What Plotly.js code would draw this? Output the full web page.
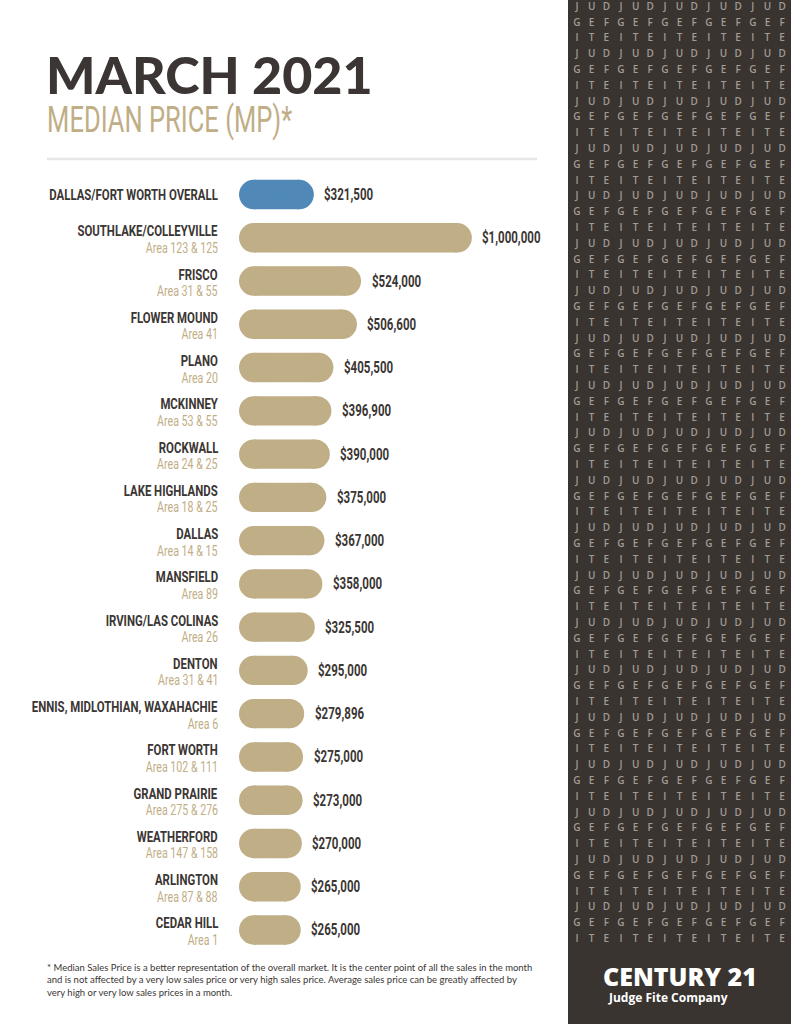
<!DOCTYPE html>
<html>
<head>
<meta charset="utf-8">
<script src="https://cdn.plot.ly/plotly-3.0.1.min.js"></script>
<style>
html,body{margin:0;padding:0;background:#fff;}
#chart{width:791px;height:1024px;}
</style>
</head>
<body>
<div id="chart"></div>
<script>
// ---- data ----
const names = ["DALLAS/FORT WORTH OVERALL","SOUTHLAKE/COLLEYVILLE","FRISCO","FLOWER MOUND","PLANO","MCKINNEY","ROCKWALL","LAKE HIGHLANDS","DALLAS","MANSFIELD","IRVING/LAS COLINAS","DENTON","ENNIS, MIDLOTHIAN, WAXAHACHIE","FORT WORTH","GRAND PRAIRIE","WEATHERFORD","ARLINGTON","CEDAR HILL"];
const areas = ["","Area 123 & 125","Area 31 & 55","Area 41","Area 20","Area 53 & 55","Area 24 & 25","Area 18 & 25","Area 14 & 15","Area 89","Area 26","Area 31 & 41","Area 6","Area 102 & 111","Area 275 & 276","Area 147 & 158","Area 87 & 88","Area 1"];
const medianPrice = [321500,1000000,524000,506600,405500,396900,390000,375000,367000,358000,325500,295000,279896,275000,273000,270000,265000,265000];
const panelRows = ["J U D","G E F","I T E"];

// ---- styling ----
const W = 791, H = 1024;
const px = x => x / W;
const py = y => 1 - y / H;
const BLUE = "#5089b8", TAN = "#bfae86", DARK = "#3b3633", PANEL = "#3a3431", LETTER = "#a19b96";
const FONT = "Roboto, 'Open Sans', sans-serif";

const X0 = 239, X1 = 560, PX_PER_DOLLAR = 0.23287 / 1000;
const XMAX = (X1 - X0) / PX_PER_DOLLAR;
const ROW_PX = (951.6 - 172.9) / 18;
const BAR_W = 0.68;                       // in category units
const BAR_PX = BAR_W * ROW_PX;            // bar thickness in px
const CAP = (BAR_PX / 2) / PX_PER_DOLLAR; // radius of the rounded end in data units

const idx = names.map((_, i) => i);
const colors = medianPrice.map((_, i) => i === 0 ? BLUE : TAN);

// pill bars: square middle + round caps at each end
const barBody = {
  type: "bar", orientation: "h",
  y: idx, base: medianPrice.map(() => CAP), x: medianPrice.map(v => v - 2 * CAP),
  width: BAR_W, marker: {color: colors, line: {width: 0}},
  hoverinfo: "skip", xaxis: "x", yaxis: "y"
};
const capsX = [], capsY = [], capsC = [];
medianPrice.forEach((v, i) => {
  capsX.push(CAP, v - CAP); capsY.push(i, i); capsC.push(colors[i], colors[i]);
});
const barCaps = {
  type: "scatter", mode: "markers", x: capsX, y: capsY,
  marker: {symbol: "circle", size: BAR_PX, color: capsC, line: {width: 0}},
  hoverinfo: "skip", xaxis: "x", yaxis: "y", cliponaxis: false
};

// letter grid in the right panel
const gx = [], gy = [], gt = [];
const nRows = 60, nCols = 15;
for (let r = 0; r < nRows; r++) {
  const letters = panelRows[r % 3].split(" ");
  for (let c = 0; c < nCols; c++) {
    gx.push(577 + c * 14.65);
    gy.push(7.3 + r * 15.8);
    gt.push(letters[c % 3]);
  }
}
const grid = {
  type: "scatter", mode: "text", x: gx, y: gy, text: gt,
  textfont: {family: "'Open Sans', sans-serif", size: 10, color: LETTER, weight: 600},
  hoverinfo: "skip", xaxis: "x2", yaxis: "y2", cliponaxis: false
};

const annotations = [];
const squeeze = {}; // annotation index -> horizontal squeeze (condensed look)
function addAnn(a, s, origin) {
  if (s) squeeze[annotations.length] = {s: s, origin: origin};
  annotations.push(a);
}
names.forEach((n, i) => {
  const hasArea = areas[i] !== "";
  addAnn({
    xref: "paper", yref: "y", x: px(220), y: i, xanchor: "right", yanchor: "middle",
    yshift: hasArea ? 6.5 : 0, showarrow: false, text: n,
    font: {family: FONT, size: 15, color: DARK, weight: 700}
  }, 0.76, "right");
  if (hasArea) addAnn({
    xref: "paper", yref: "y", x: px(220), y: i, xanchor: "right", yanchor: "middle",
    yshift: -10, showarrow: false, text: areas[i],
    font: {family: FONT, size: 14, color: TAN, weight: 400}
  }, 0.76, "right");
  addAnn({
    xref: "x", yref: "y", x: medianPrice[i], y: i, xanchor: "left", yanchor: "middle",
    xshift: 8.5, showarrow: false, text: "$" + medianPrice[i].toLocaleString("en-US"),
    font: {family: FONT, size: 16, color: DARK, weight: 700}
  }, 0.72, "left");
});
// titles & notes
addAnn({xref: "paper", yref: "paper", x: px(44), y: py(74), xanchor: "left", yanchor: "middle", showarrow: false,
  text: "MARCH 2021", font: {family: "Lato, sans-serif", size: 52, color: DARK, weight: 900}});
addAnn({xref: "paper", yref: "paper", x: px(45), y: py(119), xanchor: "left", yanchor: "middle", showarrow: false,
  text: "MEDIAN PRICE (MP)*", font: {family: FONT, size: 37, color: TAN, weight: 400}}, 0.69, "left");
addAnn({xref: "paper", yref: "paper", x: px(45), y: py(980), xanchor: "left", yanchor: "middle", showarrow: false, align: "left",
  text: "* Median Sales Price is a better representation of the overall market. It is the center point of all the sales in the month<br>and is not affected by a very low sales price or very high sales price. Average sales price can be greatly affected by<br>very high or very low sales prices in a month.",
  font: {family: "Lato, sans-serif", size: 9.5, color: DARK}});
addAnn({xref: "paper", yref: "paper", x: px(680), y: py(976), xanchor: "center", yanchor: "middle", showarrow: false,
  text: "CENTURY 21", font: {family: "'Open Sans', sans-serif", size: 25, color: "#ffffff", weight: 800}});
addAnn({xref: "paper", yref: "paper", x: px(606), y: py(997), xanchor: "left", yanchor: "middle", showarrow: false,
  text: "Judge Fite Company", font: {family: "'Open Sans', sans-serif", size: 12, color: "#ffffff", weight: 700}});

const layout = {
  width: W, height: H, margin: {l: 0, r: 0, t: 0, b: 0},
  paper_bgcolor: "#ffffff", plot_bgcolor: "rgba(0,0,0,0)",
  showlegend: false, barmode: "overlay",
  xaxis: {domain: [px(X0), px(X1)], range: [0, XMAX], visible: false, fixedrange: true},
  yaxis: {domain: [py(951.6), py(172.9)], range: [17.5, -0.5], visible: false, fixedrange: true},
  xaxis2: {domain: [px(568), 1], range: [568, 791], visible: false, anchor: "y2"},
  yaxis2: {domain: [0, 1], range: [1024, 0], visible: false, anchor: "x2"},
  shapes: [
    {type: "rect", xref: "paper", yref: "paper", x0: px(568), x1: 1, y0: 0, y1: 1, fillcolor: PANEL, line: {width: 0}, layer: "below"},
    {type: "line", xref: "paper", yref: "paper", x0: px(47), x1: px(537), y0: py(159), y1: py(159), line: {color: "#e6e6e8", width: 2.5}}
  ],
  annotations: annotations
};

function applySqueeze() {
  document.querySelectorAll("#chart g.annotation").forEach(g => {
    const sq = squeeze[+g.getAttribute("data-index")];
    if (!sq) return;
    const t = g.querySelector("text.annotation-text");
    if (!t) return;
    t.style.transformBox = "fill-box";
    t.style.transformOrigin = sq.origin + " center";
    t.style.transform = "scaleX(" + sq.s + ")";
  });
}
Plotly.newPlot("chart", [barBody, barCaps, grid], layout, {displayModeBar: false, staticPlot: true}).then(applySqueeze);
</script>
</body>
</html>
